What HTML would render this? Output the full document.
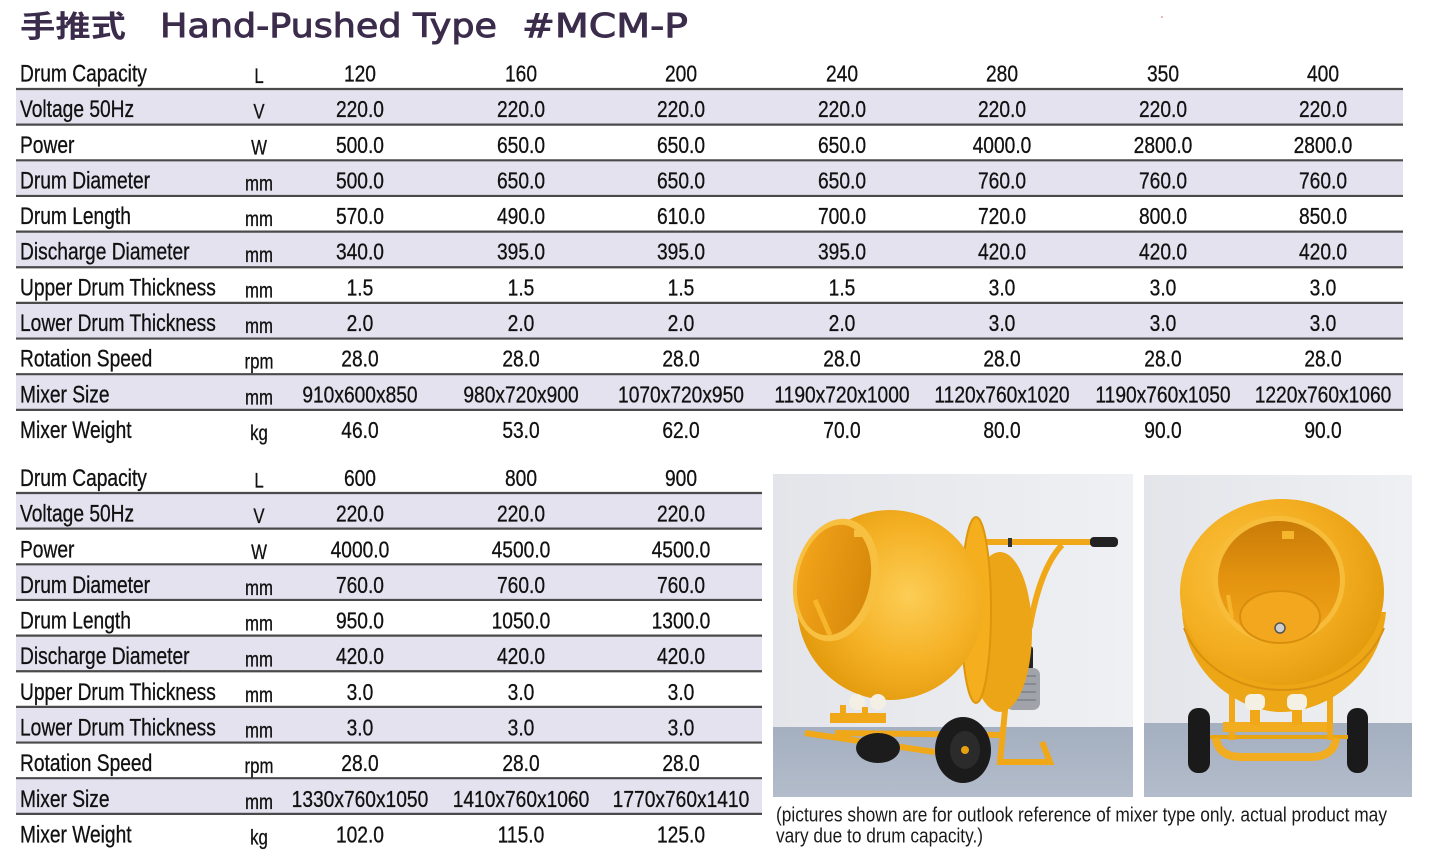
<!DOCTYPE html>
<html>
<head>
<meta charset="utf-8">
<style>
html,body{margin:0;padding:0;background:#fff;}
svg{display:block;}
</style>
</head>
<body>
<svg width="1445" height="862" viewBox="0 0 1445 862" xmlns="http://www.w3.org/2000/svg">
<defs>
  <linearGradient id="wall" x1="0" y1="0" x2="1" y2="0">
    <stop offset="0" stop-color="#e3e5ea"/>
    <stop offset="1" stop-color="#eef0f3"/>
  </linearGradient>
  <linearGradient id="floor" x1="0" y1="0" x2="0" y2="1">
    <stop offset="0" stop-color="#a4afbf"/>
    <stop offset="1" stop-color="#b3bccb"/>
  </linearGradient>
  <radialGradient id="drumL" cx="0.6" cy="0.45" r="0.6">
    <stop offset="0" stop-color="#fccd55"/>
    <stop offset="0.6" stop-color="#f5b125"/>
    <stop offset="1" stop-color="#e49b0e"/>
  </radialGradient>
  <radialGradient id="drumR" cx="0.35" cy="0.4" r="0.7">
    <stop offset="0" stop-color="#fbc543"/>
    <stop offset="0.6" stop-color="#f3ad20"/>
    <stop offset="1" stop-color="#e39a0d"/>
  </radialGradient>
  <linearGradient id="inside" x1="0" y1="0" x2="0" y2="1">
    <stop offset="0" stop-color="#c97c08"/>
    <stop offset="0.5" stop-color="#e4940f"/>
    <stop offset="1" stop-color="#f2a51c"/>
  </linearGradient>
  <linearGradient id="insideL" x1="1" y1="0" x2="0" y2="0">
    <stop offset="0" stop-color="#d8890a"/>
    <stop offset="1" stop-color="#f1a31a"/>
  </linearGradient>
</defs>

<!-- Title -->
<circle cx="1162" cy="17" r="0.8" fill="#d66"/>
<text x="20" y="37" font-family="'Liberation Sans','Noto Sans CJK SC',sans-serif" font-size="30" font-weight="bold" fill="#3c2c4c" textLength="106" lengthAdjust="spacingAndGlyphs">手推式</text>
<text x="160" y="37" font-family="'DejaVu Sans',sans-serif" font-size="33" fill="#3c2c4c" stroke="#3c2c4c" stroke-width="0.9" textLength="337" lengthAdjust="spacingAndGlyphs">Hand-Pushed Type</text>
<text x="522" y="37" font-family="'DejaVu Sans',sans-serif" font-size="33" fill="#3c2c4c" stroke="#3c2c4c" stroke-width="0.9" textLength="166" lengthAdjust="spacingAndGlyphs">#MCM-P</text>

<!-- Top table bands -->
<g fill="#e4e2ef">
  <rect x="16" y="89" width="1387" height="35.65"/>
  <rect x="16" y="160.3" width="1387" height="35.65"/>
  <rect x="16" y="231.6" width="1387" height="35.65"/>
  <rect x="16" y="302.9" width="1387" height="35.65"/>
  <rect x="16" y="374.2" width="1387" height="35.65"/>
</g>
<g stroke="#4a4a4a" stroke-width="2.2">
  <line x1="16" x2="1403" y1="89" y2="89"/>
  <line x1="16" x2="1403" y1="124.65" y2="124.65"/>
  <line x1="16" x2="1403" y1="160.3" y2="160.3"/>
  <line x1="16" x2="1403" y1="195.95" y2="195.95"/>
  <line x1="16" x2="1403" y1="231.6" y2="231.6"/>
  <line x1="16" x2="1403" y1="267.25" y2="267.25"/>
  <line x1="16" x2="1403" y1="302.9" y2="302.9"/>
  <line x1="16" x2="1403" y1="338.55" y2="338.55"/>
  <line x1="16" x2="1403" y1="374.2" y2="374.2"/>
  <line x1="16" x2="1403" y1="409.85" y2="409.85"/>
</g>

<!-- Bottom table bands -->
<g fill="#e4e2ef">
  <rect x="16" y="493" width="746" height="35.65"/>
  <rect x="16" y="564.3" width="746" height="35.65"/>
  <rect x="16" y="635.6" width="746" height="35.65"/>
  <rect x="16" y="706.9" width="746" height="35.65"/>
  <rect x="16" y="778.2" width="746" height="35.65"/>
</g>
<g stroke="#4a4a4a" stroke-width="2.2">
  <line x1="16" x2="762" y1="493" y2="493"/>
  <line x1="16" x2="762" y1="528.65" y2="528.65"/>
  <line x1="16" x2="762" y1="564.3" y2="564.3"/>
  <line x1="16" x2="762" y1="599.95" y2="599.95"/>
  <line x1="16" x2="762" y1="635.6" y2="635.6"/>
  <line x1="16" x2="762" y1="671.25" y2="671.25"/>
  <line x1="16" x2="762" y1="706.9" y2="706.9"/>
  <line x1="16" x2="762" y1="742.55" y2="742.55"/>
  <line x1="16" x2="762" y1="778.2" y2="778.2"/>
  <line x1="16" x2="762" y1="813.85" y2="813.85"/>
</g>

<g font-family="'Liberation Sans',Arial,sans-serif" fill="#111" stroke="#111" stroke-width="0.3">
  <!-- Labels -->
  <g transform="scale(0.8,1)" font-size="24">
    <text x="25" y="81.5">Drum Capacity</text>
    <text x="25" y="117.15">Voltage 50Hz</text>
    <text x="25" y="152.8">Power</text>
    <text x="25" y="188.45">Drum Diameter</text>
    <text x="25" y="224.1">Drum Length</text>
    <text x="25" y="259.75">Discharge Diameter</text>
    <text x="25" y="295.4">Upper Drum Thickness</text>
    <text x="25" y="331.05">Lower Drum Thickness</text>
    <text x="25" y="366.7">Rotation Speed</text>
    <text x="25" y="402.35">Mixer Size</text>
    <text x="25" y="438">Mixer Weight</text>

    <text x="25" y="486">Drum Capacity</text>
    <text x="25" y="521.65">Voltage 50Hz</text>
    <text x="25" y="557.3">Power</text>
    <text x="25" y="592.95">Drum Diameter</text>
    <text x="25" y="628.6">Drum Length</text>
    <text x="25" y="664.25">Discharge Diameter</text>
    <text x="25" y="699.9">Upper Drum Thickness</text>
    <text x="25" y="735.55">Lower Drum Thickness</text>
    <text x="25" y="771.2">Rotation Speed</text>
    <text x="25" y="806.85">Mixer Size</text>
    <text x="25" y="842.5">Mixer Weight</text>
  </g>
  <!-- Units -->
  <g transform="scale(0.8,1)" font-size="21" text-anchor="middle">
    <text x="323.75" y="83">L</text>
    <text x="323.75" y="118.6">V</text>
    <text x="323.75" y="154.3">W</text>
    <text x="323.75" y="190.5">mm</text>
    <text x="323.75" y="226.1">mm</text>
    <text x="323.75" y="261.8">mm</text>
    <text x="323.75" y="297.4">mm</text>
    <text x="323.75" y="333.1">mm</text>
    <text x="323.75" y="368.7">rpm</text>
    <text x="323.75" y="404.4">mm</text>
    <text x="323.75" y="440">kg</text>

    <text x="323.75" y="487.5">L</text>
    <text x="323.75" y="523.1">V</text>
    <text x="323.75" y="558.8">W</text>
    <text x="323.75" y="595">mm</text>
    <text x="323.75" y="630.6">mm</text>
    <text x="323.75" y="666.3">mm</text>
    <text x="323.75" y="701.9">mm</text>
    <text x="323.75" y="737.6">mm</text>
    <text x="323.75" y="773.2">rpm</text>
    <text x="323.75" y="808.9">mm</text>
    <text x="323.75" y="844.5">kg</text>
  </g>
  <!-- Values top table -->
  <g transform="scale(0.835,1)" font-size="23" text-anchor="middle">
    <text y="81.5"><tspan x="431.1">120</tspan><tspan x="623.95">160</tspan><tspan x="815.57">200</tspan><tspan x="1008.38">240</tspan><tspan x="1200">280</tspan><tspan x="1392.81">350</tspan><tspan x="1584.43">400</tspan></text>
    <text y="117.15"><tspan x="431.1">220.0</tspan><tspan x="623.95">220.0</tspan><tspan x="815.57">220.0</tspan><tspan x="1008.38">220.0</tspan><tspan x="1200">220.0</tspan><tspan x="1392.81">220.0</tspan><tspan x="1584.43">220.0</tspan></text>
    <text y="152.8"><tspan x="431.1">500.0</tspan><tspan x="623.95">650.0</tspan><tspan x="815.57">650.0</tspan><tspan x="1008.38">650.0</tspan><tspan x="1200">4000.0</tspan><tspan x="1392.81">2800.0</tspan><tspan x="1584.43">2800.0</tspan></text>
    <text y="188.45"><tspan x="431.1">500.0</tspan><tspan x="623.95">650.0</tspan><tspan x="815.57">650.0</tspan><tspan x="1008.38">650.0</tspan><tspan x="1200">760.0</tspan><tspan x="1392.81">760.0</tspan><tspan x="1584.43">760.0</tspan></text>
    <text y="224.1"><tspan x="431.1">570.0</tspan><tspan x="623.95">490.0</tspan><tspan x="815.57">610.0</tspan><tspan x="1008.38">700.0</tspan><tspan x="1200">720.0</tspan><tspan x="1392.81">800.0</tspan><tspan x="1584.43">850.0</tspan></text>
    <text y="259.75"><tspan x="431.1">340.0</tspan><tspan x="623.95">395.0</tspan><tspan x="815.57">395.0</tspan><tspan x="1008.38">395.0</tspan><tspan x="1200">420.0</tspan><tspan x="1392.81">420.0</tspan><tspan x="1584.43">420.0</tspan></text>
    <text y="295.4"><tspan x="431.1">1.5</tspan><tspan x="623.95">1.5</tspan><tspan x="815.57">1.5</tspan><tspan x="1008.38">1.5</tspan><tspan x="1200">3.0</tspan><tspan x="1392.81">3.0</tspan><tspan x="1584.43">3.0</tspan></text>
    <text y="331.05"><tspan x="431.1">2.0</tspan><tspan x="623.95">2.0</tspan><tspan x="815.57">2.0</tspan><tspan x="1008.38">2.0</tspan><tspan x="1200">3.0</tspan><tspan x="1392.81">3.0</tspan><tspan x="1584.43">3.0</tspan></text>
    <text y="366.7"><tspan x="431.1">28.0</tspan><tspan x="623.95">28.0</tspan><tspan x="815.57">28.0</tspan><tspan x="1008.38">28.0</tspan><tspan x="1200">28.0</tspan><tspan x="1392.81">28.0</tspan><tspan x="1584.43">28.0</tspan></text>
    <text y="402.35"><tspan x="431.1">910x600x850</tspan><tspan x="623.95">980x720x900</tspan><tspan x="815.57">1070x720x950</tspan><tspan x="1008.38">1190x720x1000</tspan><tspan x="1200">1120x760x1020</tspan><tspan x="1392.81">1190x760x1050</tspan><tspan x="1584.43">1220x760x1060</tspan></text>
    <text y="438"><tspan x="431.1">46.0</tspan><tspan x="623.95">53.0</tspan><tspan x="815.57">62.0</tspan><tspan x="1008.38">70.0</tspan><tspan x="1200">80.0</tspan><tspan x="1392.81">90.0</tspan><tspan x="1584.43">90.0</tspan></text>

    <!-- bottom table -->
    <text y="486"><tspan x="431.1">600</tspan><tspan x="623.95">800</tspan><tspan x="815.57">900</tspan></text>
    <text y="521.65"><tspan x="431.1">220.0</tspan><tspan x="623.95">220.0</tspan><tspan x="815.57">220.0</tspan></text>
    <text y="557.3"><tspan x="431.1">4000.0</tspan><tspan x="623.95">4500.0</tspan><tspan x="815.57">4500.0</tspan></text>
    <text y="592.95"><tspan x="431.1">760.0</tspan><tspan x="623.95">760.0</tspan><tspan x="815.57">760.0</tspan></text>
    <text y="628.6"><tspan x="431.1">950.0</tspan><tspan x="623.95">1050.0</tspan><tspan x="815.57">1300.0</tspan></text>
    <text y="664.25"><tspan x="431.1">420.0</tspan><tspan x="623.95">420.0</tspan><tspan x="815.57">420.0</tspan></text>
    <text y="699.9"><tspan x="431.1">3.0</tspan><tspan x="623.95">3.0</tspan><tspan x="815.57">3.0</tspan></text>
    <text y="735.55"><tspan x="431.1">3.0</tspan><tspan x="623.95">3.0</tspan><tspan x="815.57">3.0</tspan></text>
    <text y="771.2"><tspan x="431.1">28.0</tspan><tspan x="623.95">28.0</tspan><tspan x="815.57">28.0</tspan></text>
    <text y="806.85"><tspan x="431.1">1330x760x1050</tspan><tspan x="623.95">1410x760x1060</tspan><tspan x="815.57">1770x760x1410</tspan></text>
    <text y="842.5"><tspan x="431.1">102.0</tspan><tspan x="623.95">115.0</tspan><tspan x="815.57">125.0</tspan></text>
  </g>

  <!-- Caption -->
  <text x="776" y="821.5" font-size="20" fill="#1a1a1a" stroke="none" textLength="611" lengthAdjust="spacingAndGlyphs">(pictures shown are for outlook reference of mixer type only. actual product may</text>
  <text x="776" y="842.5" font-size="20" fill="#1a1a1a" stroke="none" textLength="207" lengthAdjust="spacingAndGlyphs">vary due to drum capacity.)</text>
</g>

<!-- Left photo -->
<g>
  <rect x="773" y="474" width="360" height="323" fill="url(#wall)"/>
  <rect x="773" y="727" width="360" height="70" fill="url(#floor)"/>
  <!-- handle -->
  <path d="M983,542 L1095,542" stroke="#f0a818" stroke-width="6" fill="none"/>
  <rect x="1090" y="537" width="28" height="10" rx="4" fill="#222"/>
  <rect x="1008" y="538" width="4" height="9" fill="#333"/>
  <path d="M1062,545 C1046,562 1036,592 1030,626 L1006,700 L1000,762 L1050,762 L1042,742" stroke="#f0a818" stroke-width="6" fill="none"/>
  <!-- motor -->
  <rect x="1015" y="646" width="18" height="24" rx="3" fill="#222"/>
  <rect x="1006" y="668" width="34" height="42" rx="7" fill="#a0a3a9"/>
  <path d="M1012,676 L1036,676 M1012,684 L1036,684 M1012,692 L1036,692 M1012,700 L1036,700" stroke="#7e8187" stroke-width="1.5"/>
  <!-- rear drum -->
  <ellipse cx="1000" cy="632" rx="32" ry="80" fill="#eca516"/>
  <!-- flange ring -->
  <ellipse cx="976" cy="610" rx="15" ry="93" fill="#f4ae1e" stroke="#dd960c" stroke-width="2"/>
  <!-- front drum -->
  <ellipse cx="890" cy="605" rx="93" ry="95" fill="url(#drumL)"/>
  <!-- opening -->
  <ellipse cx="836" cy="580" rx="42" ry="62" transform="rotate(12 836 580)" fill="#f8c040"/>
  <ellipse cx="834" cy="580" rx="36" ry="56" transform="rotate(12 834 580)" fill="url(#insideL)"/>
  <path d="M815,600 L830,635" stroke="#f7b52a" stroke-width="5"/>
  <rect x="854" y="530" width="8" height="7" fill="#f8c040"/>
  <!-- frame front -->
  <path d="M805,733 L935,752 M835,733 L1000,735" stroke="#f0a818" stroke-width="6" fill="none"/>
  <rect x="830" y="713" width="56" height="10" fill="#f0a818"/>
  <ellipse cx="878" cy="748" rx="22" ry="15" fill="#1c1c1c"/>
  <circle cx="857" cy="702" r="8" fill="#f3efe4"/>
  <circle cx="878" cy="702" r="8" fill="#f3efe4"/>
  <rect x="840" y="705" width="6" height="12" fill="#f0a818"/>
  <rect x="862" y="707" width="6" height="12" fill="#f0a818"/>
  <!-- main wheel -->
  <ellipse cx="963" cy="750" rx="28" ry="33" fill="#1b1b1b"/>
  <ellipse cx="965" cy="750" rx="15" ry="19" fill="#2b2b2b"/>
  <circle cx="965" cy="750" r="4" fill="#e8a010"/>
</g>

<!-- Right photo -->
<g>
  <rect x="1144" y="475" width="268" height="322" fill="url(#wall)"/>
  <rect x="1144" y="723" width="268" height="74" fill="url(#floor)"/>
  <!-- wheels -->
  <rect x="1188" y="708" width="22" height="65" rx="10" fill="#1a1a1a"/>
  <rect x="1347" y="708" width="21" height="65" rx="10" fill="#1a1a1a"/>
  <!-- frame -->
  <path d="M1210,737 L1348,737" stroke="#e9a412" stroke-width="4"/>
  <path d="M1216,738 Q1218,757 1242,757 L1310,757 Q1334,757 1336,738" stroke="#f2ac20" stroke-width="8" fill="none"/>
  <path d="M1232,690 L1232,740 M1330,690 L1330,740" stroke="#f0a818" stroke-width="6"/>
  <rect x="1223" y="722" width="104" height="10" fill="#f2ac20"/>
  <rect x="1250" y="705" width="10" height="20" fill="#f0a818"/>
  <rect x="1292" y="705" width="10" height="20" fill="#f0a818"/>
  <!-- lower drum -->
  <path d="M1182,612 C1186,676 1240,712 1282,712 C1326,712 1380,676 1386,612 Z" fill="#eca616"/>
  <path d="M1184,628 C1200,668 1240,690 1282,690 C1326,690 1368,668 1384,628" stroke="#d89010" stroke-width="2" fill="none"/>
  <!-- rollers -->
  <rect x="1245" y="694" width="20" height="16" rx="6" fill="#f4f0e4"/>
  <rect x="1287" y="694" width="20" height="16" rx="6" fill="#f4f0e4"/>
  <!-- upper drum -->
  <ellipse cx="1282" cy="592" rx="102" ry="93" fill="url(#drumR)"/>
  <!-- opening -->
  <ellipse cx="1279" cy="580" rx="66" ry="64" fill="#f7bd3a"/>
  <ellipse cx="1279" cy="580" rx="61" ry="59" fill="url(#inside)"/>
  <ellipse cx="1280" cy="617" rx="40" ry="26" fill="#f3a71e" stroke="#d88e0c" stroke-width="2"/>
  <circle cx="1280" cy="628" r="5" fill="#cfcfcf" stroke="#555" stroke-width="1.5"/>
  <rect x="1282" y="531" width="12" height="8" fill="#f6b62c"/>
  <path d="M1228,595 L1232,618" stroke="#f6b62c" stroke-width="4"/>
</g>
</svg>
</body>
</html>
